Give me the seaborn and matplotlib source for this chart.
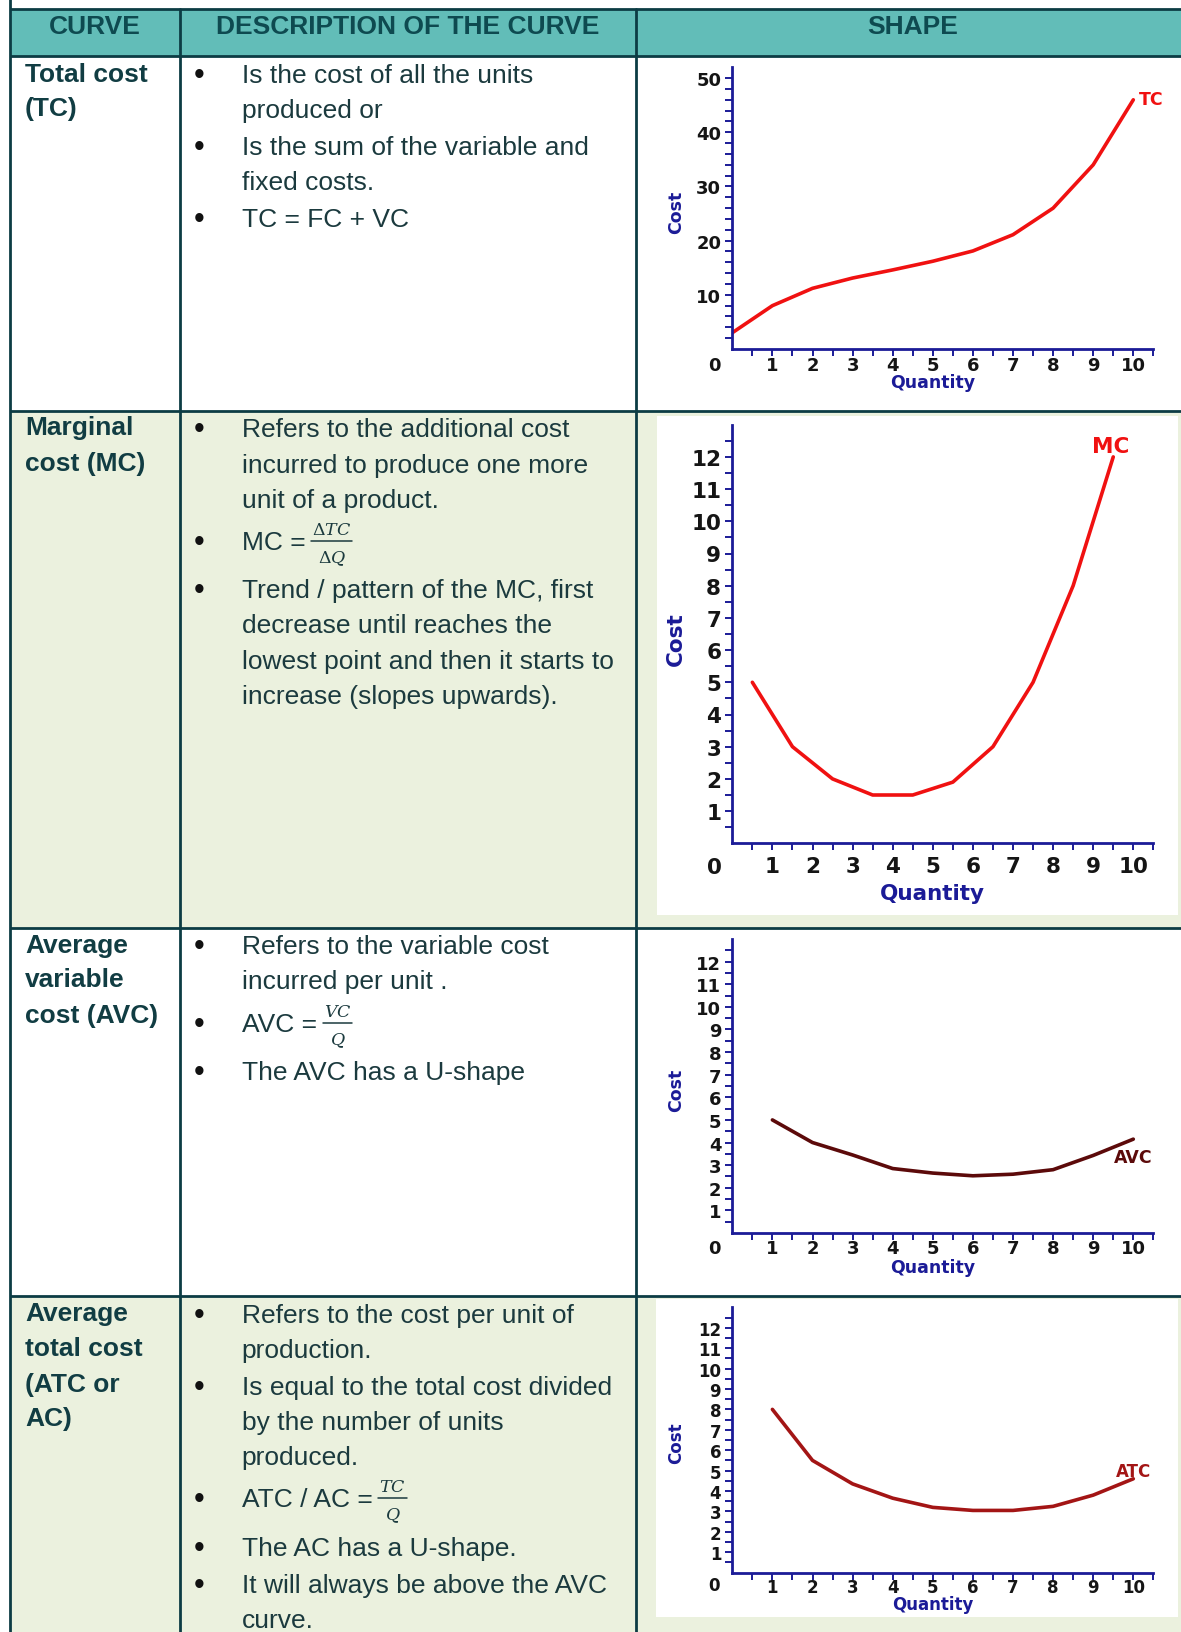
import matplotlib
matplotlib.use('Agg')
import matplotlib.pyplot as plt
from matplotlib.patches import Rectangle
import numpy as np
import seaborn as sns

# values
quantity = [0, 1, 2, 3, 4, 5, 6, 7, 8, 9, 10]
total_cost = [3, 8, 11.2, 13.1, 14.6, 16.2, 18.1, 21.1, 26, 34, 46]

mc_quantity = [0.5, 1.5, 2.5, 3.5, 4.5, 5.5, 6.5, 7.5, 8.5, 9.5]
marginal_cost = [5, 3, 2, 1.5, 1.5, 1.9, 3, 5, 8, 12]

avg_quantity = [1, 2, 3, 4, 5, 6, 7, 8, 9, 10]
avg_variable_cost = [5, 4, 3.45, 2.85, 2.65, 2.53, 2.6, 2.8, 3.43, 4.15]
avg_total_cost = [8, 5.5, 4.35, 3.65, 3.2, 3.05, 3.05, 3.25, 3.8, 4.6]

# table text
header = [(95, 'CURVE'), (408, 'DESCRIPTION OF THE CURVE'), (913, 'SHAPE')]

curve_names = [
    (75, 'Total cost'), (109, '(TC)'),
    (428, 'Marginal'), (464.5, 'cost (MC)'),
    (945.6, 'Average'), (980, 'variable'), (1016, 'cost (AVC)'),
    (1314, 'Average'), (1348.6, 'total cost'), (1385, '(ATC or'), (1419.4, 'AC)'),
]

descriptions = [
    (76, 'Is the cost of all the units', True),
    (111.4, 'produced or', False),
    (147.9, 'Is the sum of the variable and', True),
    (183.3, 'fixed costs.', False),
    (219.7, 'TC = FC + VC', True),
    (430, 'Refers to the additional cost', True),
    (465.5, 'incurred to produce one more', False),
    (501, 'unit of a product.', False),
    (591.5, 'Trend / pattern of the MC, first', True),
    (626, 'decrease until reaches the', False),
    (662, 'lowest point and then it starts to', False),
    (697, 'increase (slopes upwards).', False),
    (946.6, 'Refers to the variable cost', True),
    (982, 'incurred per unit .', False),
    (1072.6, 'The AVC has a U-shape', True),
    (1316, 'Refers to the cost per unit of', True),
    (1350.7, 'production.', False),
    (1388, 'Is equal to the total cost divided', True),
    (1422.6, 'by the number of units', False),
    (1458, 'produced.', False),
    (1548.6, 'The AC has a U-shape.', True),
    (1586, 'It will always be above the AVC', True),
    (1621.5, 'curve.', False),
]

formulas = [
    (542.6, 'MC =', r'$\Delta TC$', r'$\Delta Q$'),
    (1024.7, 'AVC =', r'$VC$', r'$Q$'),
    (1499.6, 'ATC / AC =', r'$TC$', r'$Q$'),
]

sns.set_style('white')
plt.rcParams['font.family'] = ['Liberation Sans', 'DejaVu Sans']
plt.rcParams['mathtext.fontset'] = 'dejavuserif'

W, H = 1181, 1633
fig = plt.figure(figsize=(W / 100, H / 100), dpi=100)
bg = fig.add_axes([0, 0, 1, 1])
bg.set_xlim(0, W)
bg.set_ylim(H, 0)
bg.axis('off')

teal = '#62bdb8'
green = '#ebf1de'
line_col = '#0c3c44'
text_col = '#1b3a3e'
name_col = '#113d43'
navy = '#1b1b97'

# row backgrounds
bg.add_patch(Rectangle((9.5, 10), W, 47, fc=teal, ec='none'))
rows = [57, 411.5, 928.5, 1297, H + 5]
fills = ['white', green, 'white', green]
for i in range(4):
    bg.add_patch(Rectangle((9.5, rows[i]), W, rows[i + 1] - rows[i], fc=fills[i], ec='none'))
# white picture backgrounds in the green rows
bg.add_patch(Rectangle((657, 417), 521, 499, fc='white', ec='none'))
bg.add_patch(Rectangle((656, 1300), 522, 318, fc='white', ec='none'))

for y in [10, 57, 411.5, 928.5, 1297]:
    bg.plot([9.5, W], [y, y], color=line_col, lw=2, solid_capstyle='butt')
bg.plot([9.5, 9.5], [0, H], color=line_col, lw=2)
bg.plot([180, 180], [10, H], color=line_col, lw=2)
bg.plot([636, 636], [10, H], color=line_col, lw=2)

for x, s in header:
    bg.text(x, 27, s, ha='center', va='center', fontsize=19, fontweight='bold', color='#0e4a50')

for y, s in curve_names:
    bg.text(25, y, s, ha='left', va='center', fontsize=19, fontweight='bold', color=name_col)

for y, s, bullet in descriptions:
    bg.text(241.6, y, s, ha='left', va='center', fontsize=19, color=text_col)
    if bullet:
        bg.text(199, y, '\u2022', ha='center', va='center', fontsize=22, color='#111111')

renderer = fig.canvas.get_renderer()
for y, s, num, den in formulas:
    bg.text(199, y, '\u2022', ha='center', va='center', fontsize=22, color='#111111')
    t = bg.text(241.6, y, s, ha='left', va='center', fontsize=19, color=text_col)
    x_end = t.get_window_extent(renderer).x1
    tn = bg.text(0, y - 12.5, num, ha='center', va='center', fontsize=12.5, color=text_col)
    td = bg.text(0, y + 16, den, ha='center', va='center', fontsize=12.5, color=text_col)
    w = max(tn.get_window_extent(renderer).width, td.get_window_extent(renderer).width) + 2
    xc = x_end + 6 + w / 2
    tn.set_x(xc)
    td.set_x(xc)
    bg.plot([xc - w / 2, xc + w / 2], [y - 1, y - 1], color=text_col, lw=1.1)


def cost_chart(top, bottom, ymax, x, y, color, label, label_xy, yticks, yminor,
               tick_fs, lab_fs, xpad, zero_dy, qty_dy):
    x0 = 732.3
    ax = fig.add_axes([x0 / W, (H - bottom) / H, 10.5 * 40.1 / W, (bottom - top) / H])
    ax.set_facecolor('none')
    sns.lineplot(x=x, y=y, ax=ax, color=color, linewidth=2.6,
                 solid_joinstyle='round', solid_capstyle='round')
    ax.set_xlim(0, 10.5)
    ax.set_ylim(0, ymax)
    for side in ['top', 'right']:
        ax.spines[side].set_visible(False)
    for side in ['left', 'bottom']:
        ax.spines[side].set_color(navy)
        ax.spines[side].set_linewidth(2)
    ax.set_xticks(np.arange(1, 11), [str(i) for i in range(1, 11)],
                  fontweight='bold', family='DejaVu Sans', fontsize=tick_fs, color='#151515')
    ax.set_xticks(np.arange(0.5, 10.6, 1.0), minor=True)
    ax.set_yticks(yticks, [str(v) for v in yticks],
                  fontweight='bold', family='DejaVu Sans', fontsize=tick_fs, color='#151515')
    ax.set_yticks(yminor, minor=True)
    ax.tick_params(which='both', bottom=True, left=True, direction='out',
                   length=5, width=1.4, color=navy)
    ax.tick_params(axis='x', which='major', pad=xpad)
    ax.tick_params(axis='y', which='major', pad=3)
    ax.set_xlabel('')
    ax.set_ylabel('')
    ax.annotate('0', xy=(0, 0), xytext=(-18, -zero_dy), textcoords='offset pixels',
                ha='center', va='center', fontweight='bold', family='DejaVu Sans',
                fontsize=tick_fs, color='#151515', annotation_clip=False)
    ax.annotate('Quantity', xy=(5, 0), xytext=(0, -qty_dy), textcoords='offset pixels',
                ha='center', va='center', fontweight='bold', family='DejaVu Sans',
                fontsize=lab_fs, color=navy, annotation_clip=False)
    ax.text(-1.4, ymax * 0.49, 'Cost', rotation=90, ha='center', va='center',
            fontweight='bold', family='DejaVu Sans', fontsize=lab_fs, color=navy, clip_on=False)
    ax.text(label_xy[0], label_xy[1], label, ha='center', va='center', fontweight='bold',
            family='DejaVu Sans', fontsize=lab_fs, color=color, clip_on=False)
    return ax


small_ticks = list(range(1, 13))
small_minor = list(np.arange(0.5, 12.6, 1.0))

cost_chart(68.3, 350, 52, quantity, total_cost, '#f01111', 'TC', (10.45, 46.2),
           [10, 20, 30, 40, 50], list(range(2, 51, 2)), 13, 12.5, -0.2, 15.7, 33)
cost_chart(425.7, 844.3, 13, mc_quantity, marginal_cost, '#f01111', 'MC', (9.43, 12.33),
           small_ticks, small_minor, 15.5, 15.5, 4.2, 24, 49.5)
cost_chart(940, 1234, 13, avg_quantity, avg_variable_cost, '#5c0a0a', 'AVC', (10.0, 3.36),
           small_ticks, small_minor, 13, 12.5, -0.5, 15, 34)
cost_chart(1308.3, 1573.7, 13, avg_quantity, avg_total_cost, '#a31515', 'ATC', (10.0, 5.0),
           small_ticks, small_minor, 12, 12, -0.9, 12.5, 31.5)

fig.savefig('out.png', dpi=100)
